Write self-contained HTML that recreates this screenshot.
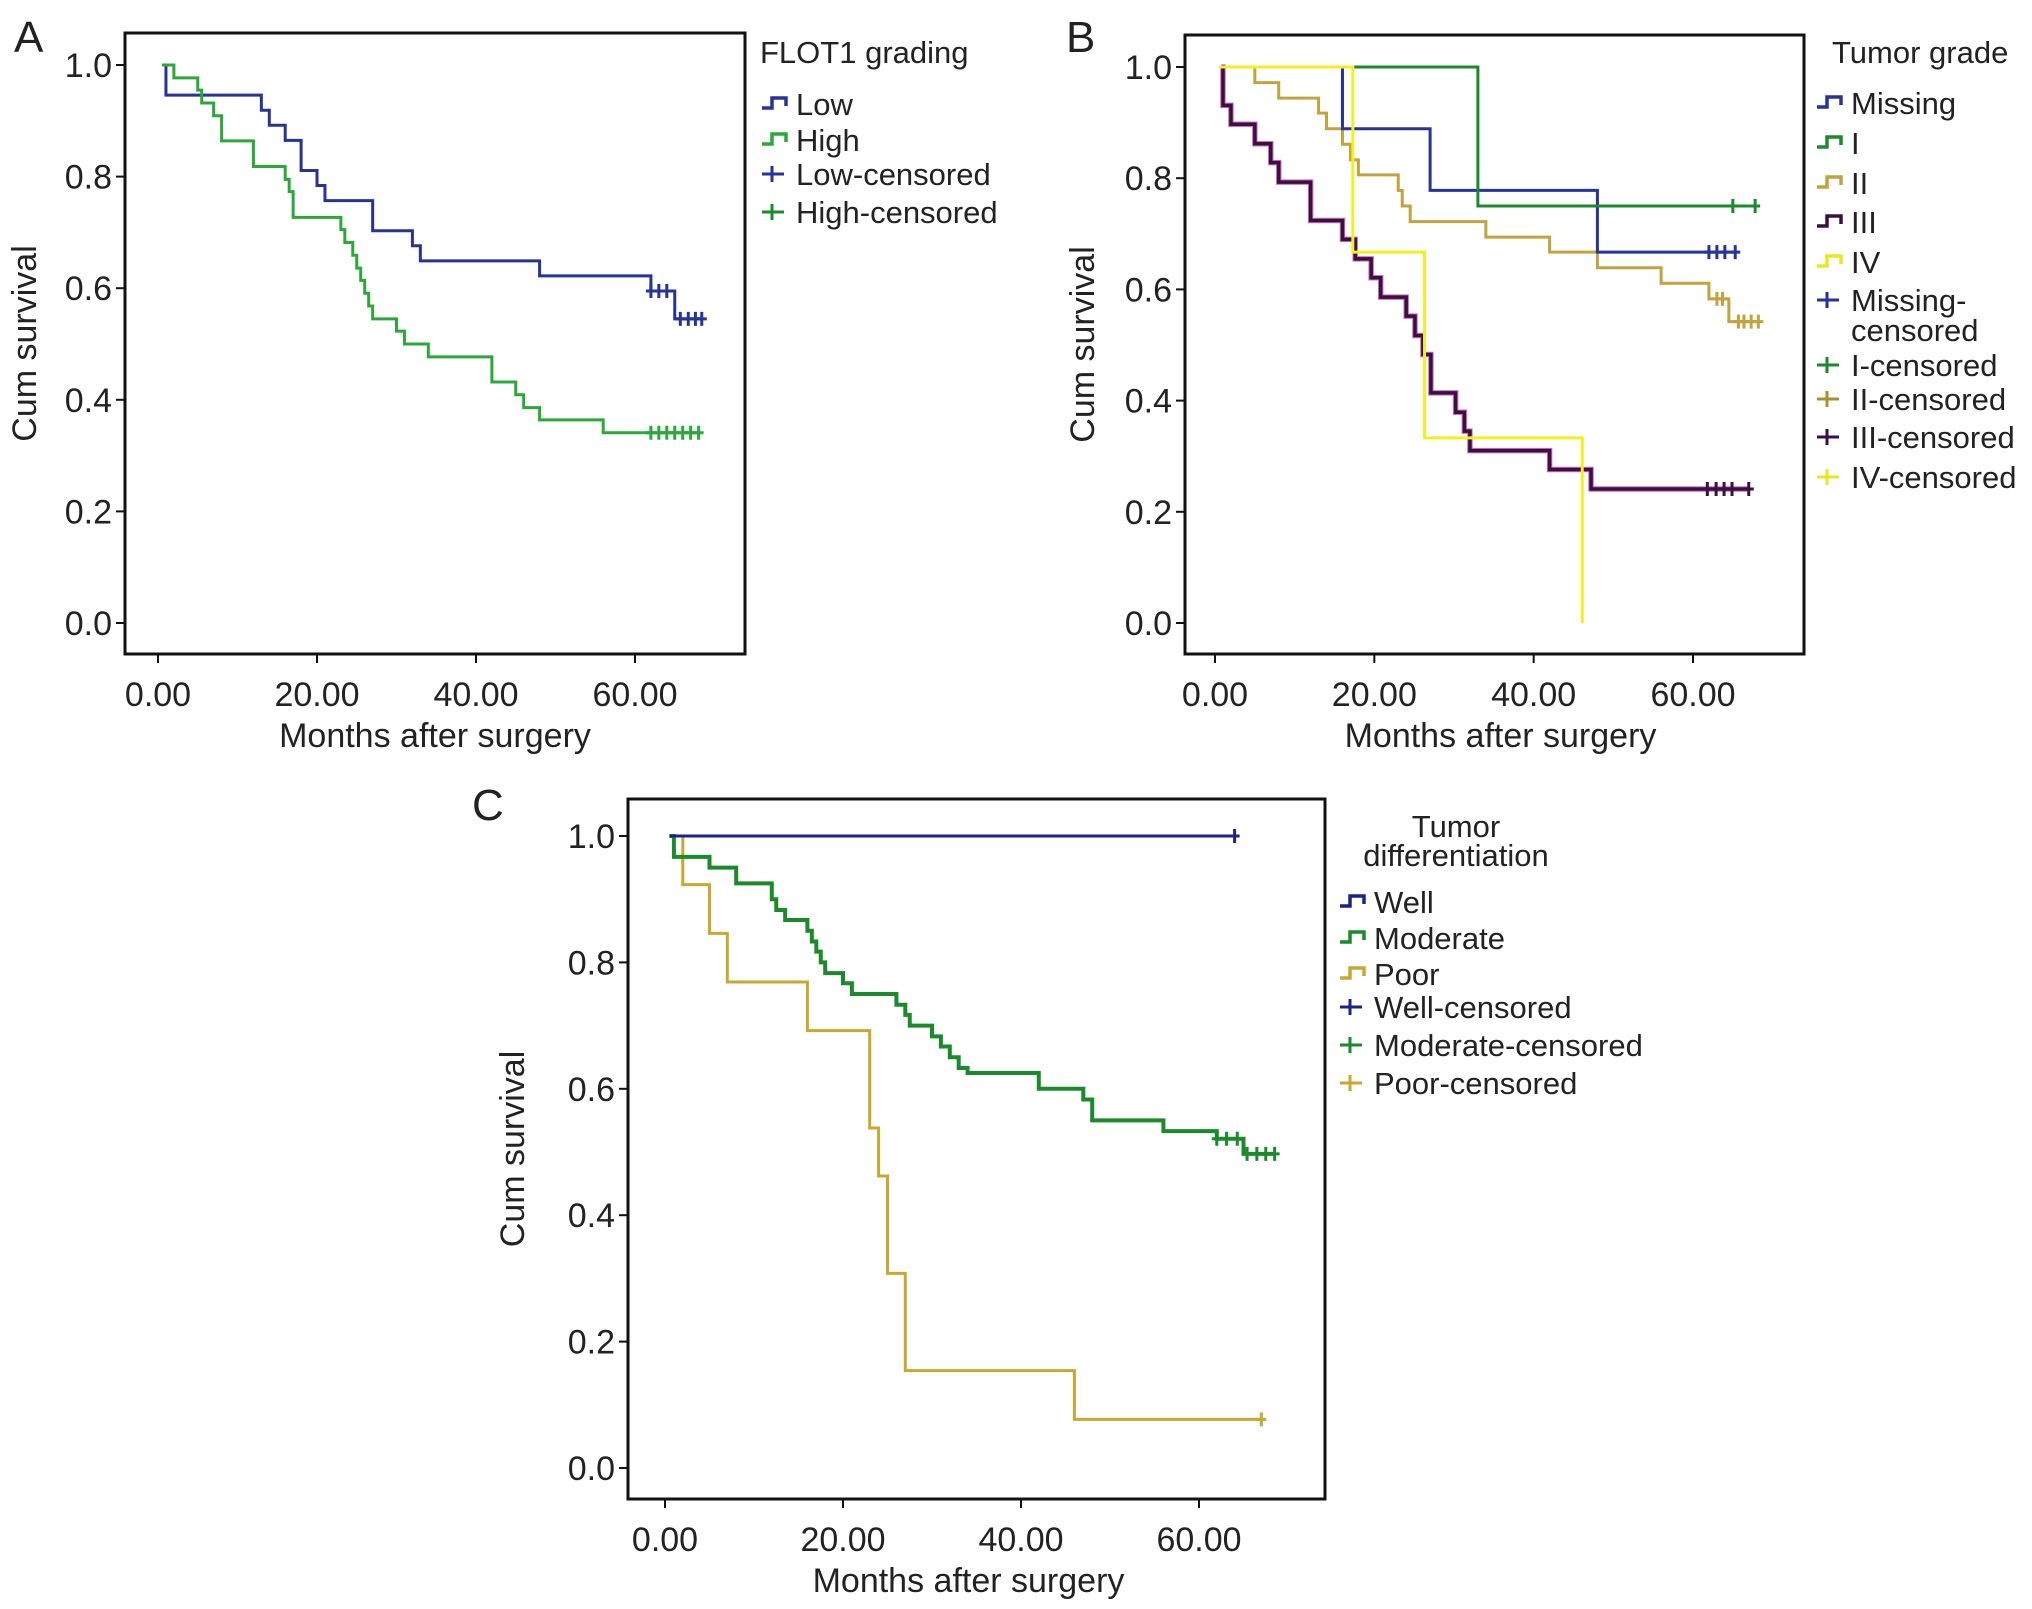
<!DOCTYPE html>
<html><head><meta charset="utf-8"><style>
html,body{margin:0;padding:0;background:#fff;}
svg{display:block;font-family:"Liberation Sans",Arial,sans-serif;}
</style></head><body>
<svg id="fig" width="2032" height="1609" viewBox="0 0 2032 1609" xmlns="http://www.w3.org/2000/svg"></svg>
<script>
// ---- Data (time in months, cumulative survival) ----
const xTicks = [0, 20, 40, 60];
const xTickLabels = ["0.00", "20.00", "40.00", "60.00"];
const yTicks = [0, 0.2, 0.4, 0.6, 0.8, 1.0];
const yTickLabels = ["0.0", "0.2", "0.4", "0.6", "0.8", "1.0"];

// Panel A
const aLowSteps = [[1,0.946],[13,0.919],[14,0.892],[16,0.865],[18,0.811],[20,0.784],[21,0.757],[27,0.703],[32,0.676],[33,0.649],[48,0.622],[62,0.595],[65,0.545]];
const aLowCens = [62,63,64,65.7,66.7,67.6,68.4];
const aHighSteps = [[2,0.977],[5,0.955],[5.5,0.932],[7,0.909],[8,0.864],[12,0.818],[16,0.795],[16.5,0.773],[17,0.727],[23,0.705],[23.5,0.682],[24.5,0.659],[25,0.636],[25.5,0.614],[26,0.591],[26.5,0.568],[27,0.545],[30,0.523],[31,0.5],[34,0.477],[42,0.432],[45,0.409],[46,0.386],[48,0.364],[56,0.341]];
const aHighCens = [62,63,64,65,66,67,68];

// Panel B
const bMissingSteps = [[16,0.889],[27,0.778],[48,0.667]];
const bMissingCens = [62,63,64,65.3];
const bISteps = [[33,0.75]];
const bICens = [65,67.8];
const bIISteps = [[5,0.972],[8,0.944],[13,0.917],[14,0.889],[16,0.861],[17,0.833],[18,0.806],[23,0.778],[23.5,0.75],[24.5,0.722],[34,0.694],[42,0.667],[48,0.639],[56,0.611],[62,0.583],[64.5,0.542]];
const bIICens = [63,63.7,65.7,66.4,67.3,68.2];
const bIIISteps = [[1,0.931],[2,0.897],[5,0.862],[7,0.828],[8,0.793],[12,0.724],[16,0.69],[17.6,0.655],[19.6,0.621],[20.8,0.586],[24,0.552],[25.1,0.517],[26.1,0.483],[27.1,0.414],[30.2,0.379],[31.3,0.345],[32,0.31],[42,0.276],[47.2,0.241]];
const bIIICens = [61.8,62.9,63.9,64.9,67];
const bIVSteps = [[17.3,0.667],[26.3,0.333],[46.1,0]];
const bIVCens = [];

// Panel C
const cWellSteps = [];
const cWellCens = [64];
const cModSteps = [[1,0.967],[5,0.95],[8,0.925],[12,0.9],[12.5,0.883],[13.5,0.867],[16,0.85],[16.5,0.833],[17,0.817],[17.5,0.8],[18,0.783],[20,0.767],[21,0.75],[26,0.733],[27,0.717],[27.5,0.7],[30,0.683],[31,0.667],[32,0.65],[33,0.633],[34,0.625],[42,0.6],[47,0.583],[48,0.55],[56,0.533],[62,0.521],[65,0.497]];
const cModCens = [62,63.1,64.3,65.4,66.5,67.5,68.5];
const cPoorSteps = [[2,0.923],[5,0.846],[7,0.769],[16,0.692],[23,0.538],[24,0.462],[25,0.308],[27,0.154],[46,0.077]];
const cPoorCens = [67];

const NS = "http://www.w3.org/2000/svg";
const svg = document.getElementById("fig");
function mk(tag, attrs, parent) {
  const e = document.createElementNS(NS, tag);
  for (const k in attrs) e.setAttribute(k, attrs[k]);
  (parent || svg).appendChild(e);
  return e;
}
function txt(str, x, y, size, anchor, parent, name) {
  const t = mk("text", {x: x, y: y, "font-size": size, "text-anchor": anchor || "start", fill: "#222"}, parent);
  t.textContent = str;
  
  
  return t;
}

function panel(cfg) {
  const g = mk("g", {});
  
  
  const sx = v => cfg.x0 + (v / 60) * (cfg.x60 - cfg.x0);
  const sy = v => cfg.y0 + v * (cfg.y1 - cfg.y0);
  const box = mk("rect", {x: cfg.box[0], y: cfg.box[1], width: cfg.box[2] - cfg.box[0], height: cfg.box[3] - cfg.box[1], fill: "none", stroke: "#111", "stroke-width": 3}, g);
  
  
  yTicks.forEach((v, i) => {
    const yy = sy(v);
    const tk = mk("line", {x1: cfg.box[0] - 9, x2: cfg.box[0], y1: yy, y2: yy, stroke: "#111", "stroke-width": 2}, g);
    
    
    txt(yTickLabels[i], cfg.box[0] - 13, yy + 12, 34, "end", g, "y-tick-label");
  });
  xTicks.forEach((v, i) => {
    const xx = sx(v);
    const tk = mk("line", {x1: xx, x2: xx, y1: cfg.box[3], y2: cfg.box[3] + 9, stroke: "#111", "stroke-width": 2}, g);
    
    
    txt(xTickLabels[i], xx, cfg.box[3] + 52, 34, "middle", g, "x-tick-label");
  });
  txt("Months after surgery", (cfg.box[0] + cfg.box[2]) / 2 + cfg.xtOff, cfg.box[3] + 93, 34, "middle", g, "x-axis-title");
  const yt = txt("Cum survival", 0, 0, 34, "middle", g, "y-axis-title");
  yt.setAttribute("transform", "translate(" + cfg.ytX + "," + ((cfg.box[1] + cfg.box[3]) / 2) + ") rotate(-90)");
  txt(cfg.letter, cfg.letterX, cfg.letterY, 44, "start", g, "panel-label");
  cfg.series.forEach(s => {
    let d = "M" + sx(s.start) + "," + sy(1);
    s.steps.forEach(p => { d += " H" + sx(p[0]) + " V" + sy(p[1]); });
    const end = s.cens.length ? Math.max.apply(null, s.cens) : (s.steps.length ? s.steps[s.steps.length - 1][0] : s.start);
    d += " H" + sx(end);
    if (s.under) {
      const u = mk("path", {d: d, fill: "none", stroke: s.under, "stroke-width": s.w + 2}, g);
      
      
    }
    const p = mk("path", {d: d, fill: "none", stroke: s.color, "stroke-width": s.w}, g);
    
    
    s.cens.forEach(t => {
      let lv = 1;
      s.steps.forEach(st => { if (st[0] <= t) lv = st[1]; });
      const cx = sx(t), cy = sy(lv);
      const c = mk("path", {d: "M" + cx + "," + (cy - 7) + " V" + (cy + 7) + " M" + (cx - 5) + "," + cy + " H" + (cx + 5), stroke: s.color, "stroke-width": 3, fill: "none"}, g);
      
      
    });
  });
  cfg.legendTitle.forEach(lt => txt(lt[0], lt[1], lt[2], 31, lt[3] || "start", g, "legend-title"));
  cfg.legend.forEach(e => {
    const lg = mk("g", {}, g);
    
    
    const x = cfg.legX, y = e.y;
    if (e.cens) {
      mk("path", {d: "M" + (x + 10) + "," + (y - 8) + " V" + (y + 8) + " M" + (x) + "," + y + " H" + (x + 22), stroke: e.color, "stroke-width": 3, fill: "none"}, lg);
    } else {
      mk("path", {d: "M" + x + "," + (y + 4) + " H" + (x + 10) + " V" + (y - 6) + " H" + (x + 24) + " V" + (y + 2), stroke: e.color, "stroke-width": 3.5, fill: "none"}, lg);
    }
    e.label.forEach((l, k) => txt(l, cfg.legX + 34, y + 11 + k * 30, 31, "start", lg, "legend-label"));
  });
}

panel({name: "panel-a", letter: "A", letterX: 14, letterY: 52, box: [125, 33, 745, 654],
  x0: 158, x60: 635, y0: 623, y1: 65, ytX: 36, xtOff: 0,
  series: [
    {id: "a-low", start: 0.5, steps: aLowSteps, cens: aLowCens, color: "#26339a", w: 3},
    {id: "a-high", start: 0.5, steps: aHighSteps, cens: aHighCens, color: "#2ba83a", w: 3}
  ],
  legendTitle: [["FLOT1 grading", 760, 63]],
  legX: 762,
  legend: [
    {y: 104, color: "#26339a", label: ["Low"]},
    {y: 140, color: "#2ba83a", label: ["High"]},
    {y: 174, color: "#26339a", label: ["Low-censored"], cens: true},
    {y: 212, color: "#1a8a2a", label: ["High-censored"], cens: true}
  ]});

panel({name: "panel-b", letter: "B", letterX: 1066, letterY: 52, box: [1185, 35, 1804, 654],
  x0: 1215, x60: 1693, y0: 623, y1: 67, ytX: 1094, xtOff: 6,
  series: [
    {id: "b-iii", start: 0.8, steps: bIIISteps, cens: bIIICens, color: "#3a1040", w: 3.5, under: "#d070c0"},
    {id: "b-ii", start: 0.5, steps: bIISteps, cens: bIICens, color: "#c2a340", w: 3},
    {id: "b-missing", start: 0.5, steps: bMissingSteps, cens: bMissingCens, color: "#26339a", w: 3},
    {id: "b-i", start: 0.5, steps: bISteps, cens: bICens, color: "#1a8a2a", w: 3},
    {id: "b-iv", start: 0.5, steps: bIVSteps, cens: bIVCens, color: "#f2f020", w: 3}
  ],
  legendTitle: [["Tumor grade", 1832, 63]],
  legX: 1817,
  legend: [
    {y: 103, color: "#26339a", label: ["Missing"]},
    {y: 143, color: "#1a8a2a", label: ["I"]},
    {y: 183, color: "#c2a340", label: ["II"]},
    {y: 222, color: "#3a1040", label: ["III"]},
    {y: 262, color: "#e8e820", label: ["IV"]},
    {y: 300, color: "#26339a", label: ["Missing-", "censored"], cens: true},
    {y: 365, color: "#1a8a2a", label: ["I-censored"], cens: true},
    {y: 399, color: "#a89030", label: ["II-censored"], cens: true},
    {y: 437, color: "#3a1040", label: ["III-censored"], cens: true},
    {y: 477, color: "#e8e820", label: ["IV-censored"], cens: true}
  ]});

panel({name: "panel-c", letter: "C", letterX: 472, letterY: 820, box: [628, 799, 1325, 1499],
  x0: 665, x60: 1199, y0: 1468, y1: 836, ytX: 524, xtOff: -8,
  series: [
    {id: "c-poor", start: 0.5, steps: cPoorSteps, cens: cPoorCens, color: "#c8a830", w: 3},
    {id: "c-moderate", start: 0.5, steps: cModSteps, cens: cModCens, color: "#1a8a2a", w: 4},
    {id: "c-well", start: 0.5, steps: cWellSteps, cens: cWellCens, color: "#1c2388", w: 3}
  ],
  legendTitle: [["Tumor", 1456, 837, "middle"], ["differentiation", 1456, 866, "middle"]],
  legX: 1340,
  legend: [
    {y: 902, color: "#1c2388", label: ["Well"]},
    {y: 938, color: "#1a8a2a", label: ["Moderate"]},
    {y: 974, color: "#c8a830", label: ["Poor"]},
    {y: 1007, color: "#1c2388", label: ["Well-censored"], cens: true},
    {y: 1045, color: "#1a8a2a", label: ["Moderate-censored"], cens: true},
    {y: 1083, color: "#c8a830", label: ["Poor-censored"], cens: true}
  ]});
</script>
</body></html>
